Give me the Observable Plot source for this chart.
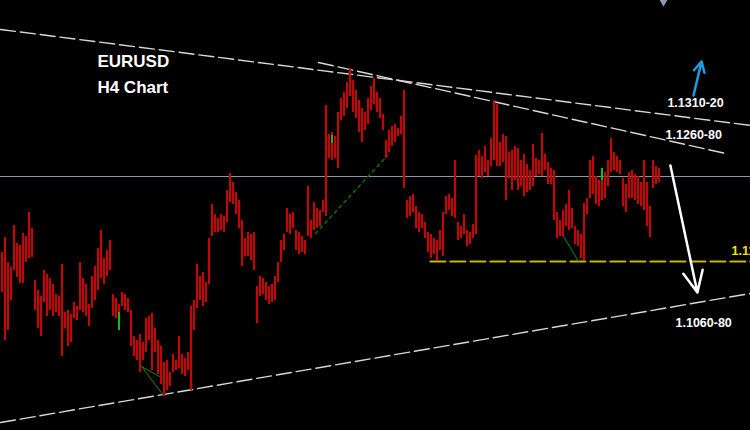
<!DOCTYPE html>
<html>
<head>
<meta charset="utf-8">
<script src="https://cdn.jsdelivr.net/npm/d3@7"></script>
<script src="https://cdn.jsdelivr.net/npm/@observablehq/plot@0.6"></script>
<style>
  html, body { margin: 0; padding: 0; background: #000; overflow: hidden; }
  #chart svg { display: block; }
</style>
</head>
<body>
<div id="chart"></div>
<script>
// EURUSD H4 bars: high and low of each 4-hour bar, oldest first
const highs = [
  1.11250, 1.11438, 1.11125, 1.11063, 1.11588, 1.11363, 1.11338, 1.11488, 1.11450, 1.11750,
  1.11550, 1.10900, 1.10775, 1.10700, 1.11025, 1.10975, 1.10925, 1.10850, 1.10725, 1.10700,
  1.11100, 1.10500, 1.10525, 1.10475, 1.10625, 1.10575, 1.11125, 1.10925, 1.10850, 1.10600,
  1.10950, 1.11075, 1.11300, 1.11525, 1.11175, 1.11275, 1.11400, 1.10725, 1.10675, 1.10600,
  1.10750, 1.10725, 1.10675, 1.10525, 1.10200, 1.10150, 1.10225, 1.10125, 1.10425, 1.10450,
  1.10488, 1.10300, 1.10150, 1.10075, 1.09875, 1.09900, 1.09750, 1.09975, 1.09900, 1.10200,
  1.09975, 1.09925, 1.10000, 1.10575, 1.10650, 1.11100, 1.10950, 1.11000, 1.10875, 1.11425,
  1.11850, 1.11725, 1.11675, 1.11725, 1.11700, 1.12025, 1.12238, 1.12125, 1.12000, 1.11900,
  1.11650, 1.11425, 1.11500, 1.11475, 1.11500, 1.10825, 1.10950, 1.10925, 1.10875, 1.10825,
  1.10850, 1.10950, 1.11125, 1.11400, 1.11475, 1.11800, 1.11725, 1.11750, 1.11525, 1.11500,
  1.11450, 1.11400, 1.12075, 1.11650, 1.11875, 1.11800, 1.11775, 1.11900, 1.13088, 1.12725,
  1.12750, 1.12700, 1.13000, 1.13175, 1.13250, 1.13375, 1.13550, 1.13400, 1.13275, 1.13150,
  1.13050, 1.13000, 1.13175, 1.13325, 1.13425, 1.13250, 1.13175, 1.12975, 1.12650, 1.12775,
  1.12825, 1.12850, 1.12800, 1.12950, 1.13275, 1.11900, 1.11950, 1.11975, 1.11825, 1.11750,
  1.11725, 1.11625, 1.11500, 1.11475, 1.11425, 1.11400, 1.11525, 1.11750, 1.11950, 1.11975,
  1.11925, 1.12400, 1.11625, 1.11575, 1.11725, 1.11525, 1.11500, 1.11600, 1.12463, 1.12525,
  1.12450, 1.12575, 1.12400, 1.12675, 1.13150, 1.13100, 1.12625, 1.12725, 1.12700, 1.12500,
  1.12525, 1.12575, 1.12550, 1.12400, 1.12475, 1.12350, 1.12275, 1.12600, 1.12425, 1.12400,
  1.12738, 1.12475, 1.12375, 1.12300, 1.12275, 1.11750, 1.11650, 1.11775, 1.11850, 1.12025,
  1.11800, 1.11575, 1.11525, 1.11475, 1.11863, 1.11925, 1.12400, 1.12450, 1.12200, 1.12150,
  1.12275, 1.12250, 1.12400, 1.12675, 1.12500, 1.12450, 1.12400, 1.12175, 1.12100, 1.12250,
  1.12275, 1.12225, 1.12200, 1.12125, 1.12400, 1.12125, 1.11825, 1.12400, 1.12325, 1.12300
];
const lows = [
  1.10750, 1.10150, 1.10275, 1.10650, 1.11025, 1.10938, 1.10863, 1.10863, 1.11125, 1.11175,
  1.11188, 1.10525, 1.10300, 1.10200, 1.10625, 1.10450, 1.10525, 1.10450, 1.10500, 1.10450,
  1.09950, 1.10300, 1.10075, 1.10125, 1.10425, 1.10400, 1.10525, 1.10500, 1.10450, 1.10325,
  1.10550, 1.10650, 1.10775, 1.10925, 1.10850, 1.10950, 1.11025, 1.10450, 1.10425, 1.10275,
  1.10575, 1.10525, 1.10500, 1.10075, 1.09950, 1.09900, 1.09750, 1.09900, 1.10000, 1.10150,
  1.09775, 1.10000, 1.09725, 1.09600, 1.09450, 1.09525, 1.09575, 1.09750, 1.09775, 1.09800,
  1.09725, 1.09700, 1.09775, 1.09525, 1.10275, 1.10550, 1.10650, 1.10575, 1.10625, 1.10850,
  1.11450, 1.11500, 1.11500, 1.11525, 1.11500, 1.11625, 1.11875, 1.11850, 1.11725, 1.11550,
  1.11075, 1.11200, 1.11200, 1.11150, 1.11025, 1.10363, 1.10700, 1.10725, 1.10650, 1.10600,
  1.10625, 1.10650, 1.10875, 1.11125, 1.11275, 1.11500, 1.11475, 1.11550, 1.11275, 1.11225,
  1.11250, 1.11225, 1.11450, 1.11425, 1.11525, 1.11550, 1.11575, 1.11750, 1.11700, 1.12425,
  1.12400, 1.12425, 1.12300, 1.12900, 1.12950, 1.13050, 1.13200, 1.13000, 1.12925, 1.12750,
  1.12625, 1.12775, 1.12850, 1.13025, 1.13100, 1.13000, 1.12925, 1.12775, 1.12425, 1.12500,
  1.12575, 1.12625, 1.12700, 1.12725, 1.12050, 1.11675, 1.11700, 1.11750, 1.11550, 1.11500,
  1.11550, 1.11425, 1.11250, 1.11175, 1.11225, 1.11150, 1.11275, 1.11200, 1.11725, 1.11775,
  1.11700, 1.11675, 1.11400, 1.11425, 1.11475, 1.11325, 1.11350, 1.11425, 1.11475, 1.12200,
  1.12175, 1.12250, 1.12200, 1.12325, 1.12400, 1.12325, 1.12325, 1.12375, 1.11900, 1.12175,
  1.12025, 1.12150, 1.12025, 1.12075, 1.11950, 1.12000, 1.12025, 1.12075, 1.12200, 1.12225,
  1.12200, 1.12275, 1.12100, 1.12100, 1.11650, 1.11425, 1.11450, 1.11450, 1.11575, 1.11525,
  1.11550, 1.11350, 1.11325, 1.11175, 1.11150, 1.11725, 1.11925, 1.11975, 1.11850, 1.11825,
  1.11900, 1.11925, 1.12075, 1.12250, 1.12275, 1.12250, 1.12225, 1.11825, 1.11750, 1.11925,
  1.11925, 1.11900, 1.11850, 1.11825, 1.11775, 1.11575, 1.11438, 1.12050, 1.12100, 1.12125
];

// bars printed in green (bullish bodies)
const upIndex = [39, 110, 200];
const upHigh = [1.10500, 1.12713, 1.12300];
const upLow = [1.10275, 1.12613, 1.12150];

// drawn trendlines: [bar index, price] end points
const upperTrend = [[-0.5, 1.14038], [249.5, 1.12838]];
const innerTrend = [[105.5, 1.13625], [241.2, 1.12488]];
const lowerTrend = [[-0.5, 1.09125], [249.5, 1.10738]];
const supportLine = [[142.8, 1.11138], [249.5, 1.11138]];
const currentPrice = 1.1220;
const riseLine = [[104.5, 1.11488], [128.5, 1.12463]];
const swingLines = [
  [[46.5, 1.09825], [53.8, 1.09463]],
  [[46.5, 1.09825], [55.5, 1.09638]],
  [[186.8, 1.11475], [192.2, 1.11138]]
];

// projection arrows
const arrowDown = {x1: 222.8, y1: 1.12338, x2: 231.8, y2: 1.10750};
const arrowUp = {x1: 230.5, y1: 1.13213, x2: 233.2, y2: 1.13638};

// level labels
const levelLabels = [
  {text: "1.1310-20", i: 221.8, p: 1.13113, color: "#ffffff"},
  {text: "1.1260-80", i: 221.2, p: 1.12725, color: "#ffffff"},
  {text: "1.1060-80", i: 224.5, p: 1.10375, color: "#ffffff"},
  {text: "1.1110-20", i: 243.2, p: 1.11263, color: "#f2e200"}
];
const titleLines = [
  {text: "EURUSD", i: 31.8, p: 1.13638},
  {text: "H4 Chart", i: 31.8, p: 1.13313}
];
const topMarker = [{i: 220.5, p: 1.14425}];

const bars = highs.map((h, i) => ({i, high: h, low: lows[i]}));
const upBars = upIndex.map((i, k) => ({i, high: upHigh[k], low: upLow[k]}));
const seg = (pts) => pts.map(([i, p]) => ({i, p}));

const font = "'Liberation Sans', Arial, sans-serif";
const dashed = {x: "i", y: "p", stroke: "#d8d8d8", strokeWidth: 1.4, strokeDasharray: "15,5"};

const chart = Plot.plot({
  width: 750,
  height: 430,
  margin: 0,
  x: {domain: [-0.5, 249.5], axis: null},
  y: {domain: [1.09025, 1.1440], axis: null},
  style: {background: "#000000", overflow: "hidden"},
  marks: [
    Plot.ruleY([currentPrice], {stroke: "#8898ae", strokeWidth: 1}),
    Plot.line(seg(upperTrend), dashed),
    Plot.line(seg(innerTrend), dashed),
    Plot.line(seg(lowerTrend), dashed),
    Plot.line(seg(supportLine), {x: "i", y: "p", stroke: "#c9b600", strokeWidth: 2, strokeDasharray: "15,5"}),
    Plot.line(seg(riseLine), {x: "i", y: "p", stroke: "#0b6e0b", strokeWidth: 1.5, strokeDasharray: "3,4"}),
    ...swingLines.map(s => Plot.line(seg(s), {x: "i", y: "p", stroke: "#138a13", strokeWidth: 1})),
    Plot.ruleX(bars, {x: "i", y1: "low", y2: "high", stroke: "#9c0000", strokeWidth: 2.2}),
    Plot.ruleX(bars, {x: "i", y1: "low", y2: "high", stroke: "#ee0d0d", strokeWidth: 1}),
    Plot.ruleX(upBars, {x: "i", y1: "low", y2: "high", stroke: "#12c012", strokeWidth: 2}),
    Plot.arrow([arrowDown], {x1: "x1", y1: "y1", x2: "x2", y2: "y2", stroke: "#ffffff", strokeWidth: 2.5, headLength: 14, headAngle: 50}),
    Plot.arrow([arrowUp], {x1: "x1", y1: "y1", x2: "x2", y2: "y2", stroke: "#1e9ce4", strokeWidth: 2.5, headLength: 13, headAngle: 55}),
    Plot.dot(topMarker, {x: "i", y: "p", symbol: "diamond", r: 5, fill: "#8a9ab0"}),
    Plot.text(titleLines, {x: "i", y: "p", text: "text", fill: "#ffffff", fontSize: 17, fontWeight: "bold", fontFamily: font, textAnchor: "start", lineAnchor: "middle"}),
    Plot.text(levelLabels, {x: "i", y: "p", text: "text", fill: "color", fontSize: 12.5, fontWeight: "bold", fontFamily: font, textAnchor: "start", lineAnchor: "middle"})
  ]
});
document.getElementById("chart").appendChild(chart);
</script>
</body>
</html>
